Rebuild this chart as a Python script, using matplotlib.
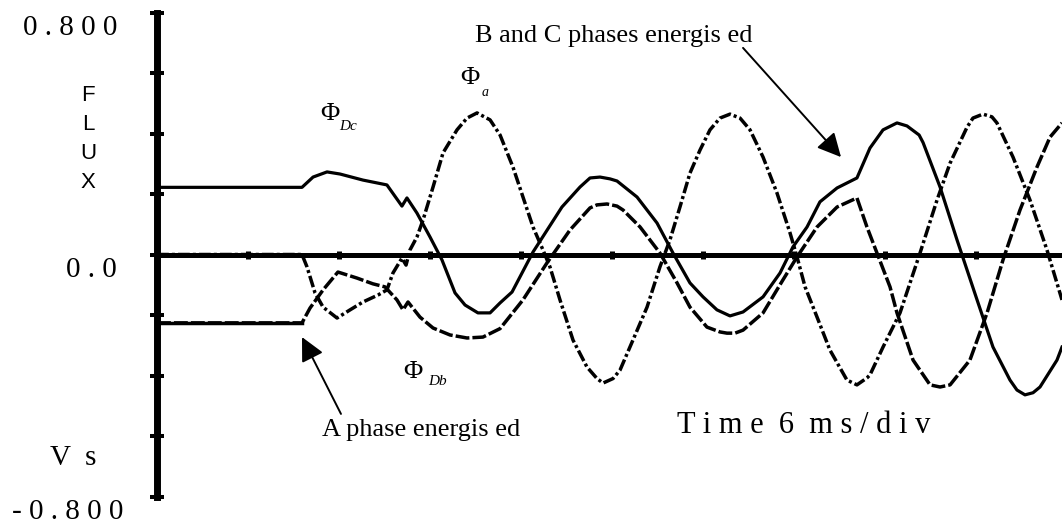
import matplotlib
matplotlib.use("Agg")
import matplotlib.pyplot as plt

plt.rcParams['font.family'] = ['Liberation Serif', 'DejaVu Serif']
plt.rcParams['lines.scale_dashes'] = False

# time in ms, flux in V s
t_dc = [0.0, 9.56, 10.29, 11.21, 12.07, 13.58, 15.16, 16.15, 16.48, 17.14, 18.00,
        18.79, 19.65, 20.31, 21.16, 21.96, 22.62, 23.41, 24.79, 26.70, 27.89, 28.55, 29.21,
        29.87, 30.33, 31.65, 32.97, 34.02, 35.14, 36.00, 36.92, 37.78, 38.64, 39.96, 41.08,
        41.93, 42.86, 43.71, 44.84, 46.15, 47.01, 47.87, 48.79, 49.45, 50.25, 50.51, 51.63,
        52.75, 54.07, 55.12, 56.24, 56.70, 57.23, 57.76, 58.22, 59.34, 59.67]
phi_dc = [0.222, 0.222, 0.256, 0.273, 0.266, 0.246, 0.230, 0.160, 0.187, 0.137, 0.058,
          -0.018, -0.127, -0.167, -0.193, -0.193, -0.160, -0.124, 0.008, 0.157, 0.223, 0.253, 0.256,
          0.250, 0.243, 0.190, 0.104, 0.005, -0.094, -0.140, -0.183, -0.203, -0.190, -0.140, -0.061,
          0.025, 0.091, 0.174, 0.220, 0.253, 0.352, 0.412, 0.435, 0.425, 0.395, 0.370, 0.223,
          0.048, -0.150, -0.306, -0.415, -0.448, -0.464, -0.457, -0.438, -0.349, -0.306]

t_db = [0.0, 9.56, 10.09, 10.95, 11.93, 13.19, 14.24, 15.03, 15.82, 16.22, 16.55,
        17.34, 18.20, 19.32, 20.44, 21.49, 22.62, 24.13, 25.71, 27.23, 28.55, 29.01, 29.67,
        30.33, 30.73, 31.85, 33.16, 34.29, 35.14, 36.26, 37.12, 37.58, 38.11, 38.64, 39.96,
        41.27, 42.20, 43.52, 44.84, 46.15, 46.81, 47.47, 48.33, 48.79, 49.85, 50.97, 51.63,
        52.29, 53.60, 54.73, 55.78, 56.90, 58.02, 58.88, 59.67]
phi_db = [-0.226, -0.226, -0.177, -0.117, -0.058, -0.078, -0.097, -0.107, -0.150, -0.183, -0.157,
          -0.207, -0.243, -0.266, -0.276, -0.273, -0.245, -0.150, -0.028, 0.081, 0.154, 0.164, 0.167,
          0.160, 0.147, 0.091, 0.005, -0.094, -0.174, -0.240, -0.256, -0.260, -0.260, -0.250, -0.193,
          -0.084, -0.008, 0.091, 0.157, 0.187, 0.091, 0.005, -0.107, -0.193, -0.349, -0.431, -0.438,
          -0.431, -0.349, -0.193, -0.018, 0.147, 0.289, 0.388, 0.435]

t_a = [0.0, 9.56, 9.89, 10.42, 10.95, 11.87, 12.73, 13.58, 14.57, 15.16, 15.56, 16.15,
       16.42, 16.68, 17.14, 17.54, 18.20, 18.86, 19.78, 20.44, 21.10, 21.96, 22.62, 23.47,
       24.13, 24.79, 25.45, 25.91, 26.57, 27.43, 28.35, 29.01, 29.41, 30.07, 30.53, 31.38,
       32.31, 33.16, 33.82, 34.48, 35.14, 35.80, 36.46, 37.12, 37.78, 38.44, 39.10, 39.96,
       40.88, 41.74, 42.20, 42.73, 43.52, 44.37, 45.23, 45.49, 46.15, 46.81, 47.01, 47.87,
       48.99, 50.31, 51.43, 52.29, 53.41, 53.80, 54.46, 55.05, 55.38, 56.44, 57.56, 58.68,
       59.67]
phi_a = [0.0, 0.0, -0.041, -0.127, -0.174, -0.210, -0.183, -0.157, -0.134, -0.117, -0.061, -0.012,
         -0.035, 0.015, 0.058, 0.114, 0.223, 0.336, 0.412, 0.451, 0.468, 0.445, 0.395, 0.289,
         0.190, 0.091, 0.015, -0.041, -0.150, -0.283, -0.372, -0.410, -0.425, -0.410, -0.382, -0.283,
         -0.174, -0.041, 0.048, 0.157, 0.269, 0.345, 0.412, 0.451, 0.464, 0.451, 0.412, 0.322,
         0.203, 0.071, -0.008, -0.107, -0.207, -0.316, -0.392, -0.415, -0.431, -0.408, -0.398, -0.306,
         -0.193, 0.005, 0.180, 0.302, 0.421, 0.451, 0.464, 0.455, 0.435, 0.322, 0.180, 0.015,
         -0.150]

y_ticks = [-0.8, -0.6, -0.4, -0.2, 0.0, 0.2, 0.4, 0.6, 0.8]
x_ticks = [6, 12, 18, 24, 30, 36, 42, 48, 54]

fig = plt.figure(figsize=(10.62, 5.29), dpi=100)
ax = fig.add_axes([157 / 1062, 32.5 / 529, 905 / 1062, 484 / 529])
ax.set_xlim(0, 905 * 6 / 91)
ax.set_ylim(-0.8, 0.8)

lw = 2.5
ax.plot(t_a, phi_a, color='black', lw=lw, dashes=(8.5, 2.2, 2.2, 2.2))
ax.plot(t_db, phi_db, color='black', lw=lw, dashes=(10, 2.2))
ax.plot(t_db[:2], phi_db[:2], color='black', lw=lw)
ax.plot(t_dc, phi_dc, color='black', lw=2.3)

# axes drawn as thick bars
for s in ['top', 'right']:
    ax.spines[s].set_visible(False)
ax.spines['left'].set_linewidth(5)
ax.spines['bottom'].set_position(('data', 0))
ax.spines['bottom'].set_linewidth(3.6)
ax.spines['left'].set_zorder(5)
ax.spines['bottom'].set_zorder(5)
ax.set_yticks(y_ticks)
ax.set_xticks(x_ticks)
ax.tick_params(axis='y', direction='inout', length=9.5, width=2.9, labelleft=False)
ax.tick_params(axis='x', direction='inout', length=5.5, width=3.6, labelbottom=False)
for t in ax.yaxis.get_major_ticks():
    t.tick1line.set_clip_on(False)

# y labels
fig.text(117 / 1062, 1 - 28 / 529, '0 . 8 0 0', fontsize=21, ha='right', va='center')
fig.text(117 / 1062, 1 - 270 / 529, '0 . 0', fontsize=21, ha='right', va='center')
fig.text(123 / 1062, 1 - 512 / 529, '- 0 . 8 0 0', fontsize=21, ha='right', va='center')
fig.text(50 / 1062, 1 - 458 / 529, 'V  s', fontsize=21, ha='left', va='center')
fig.text(88 / 1062, 1 - 139 / 529, 'F\nL\nU\nX', fontsize=16, ha='center', va='center',
         family='Liberation Sans', linespacing=1.5)

# flux labels
ax.text(20.64, 0.583, 'Φ', fontsize=19, ha='center', va='center')
ax.text(21.4, 0.535, 'a', fontsize=10, style='italic', ha='left', va='center')
ax.text(11.41, 0.464, 'Φ', fontsize=19, ha='center', va='center')
ax.text(12.0, 0.423, 'Dc', fontsize=11, style='italic', ha='left', va='center')
ax.text(16.88, -0.388, 'Φ', fontsize=19, ha='center', va='center')
ax.text(17.9, -0.421, 'Db', fontsize=11, style='italic', ha='left', va='center')

# annotations
arrow = dict(arrowstyle='-|>,head_length=0.6,head_width=0.3', color='black', lw=1.4,
             mutation_scale=24, shrinkA=0, shrinkB=0)
ax.annotate('', xy=(45.1, 0.322), xytext=(38.64, 0.683), arrowprops=arrow)
ax.text(30.13, 0.722, 'B and C phases energis ed', fontsize=19, ha='center', va='center')
ax.annotate('', xy=(9.56, -0.273), xytext=(12.13, -0.527), arrowprops=arrow)
ax.text(17.41, -0.580, 'A phase energis ed', fontsize=19, ha='center', va='center')
ax.text(34.29, -0.564, 'T i m e  6  m s / d i v', fontsize=22, ha='left', va='center')

fig.savefig('out.png', dpi=100)
